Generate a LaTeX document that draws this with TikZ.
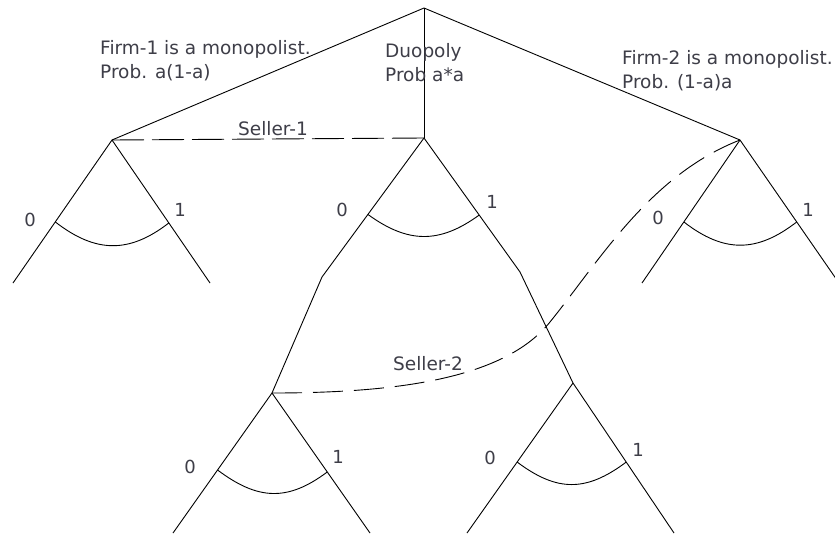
\documentclass[tikz,border=0pt]{standalone}
\usepackage{fontspec}
\setmainfont{DejaVu Sans}
\usetikzlibrary{calc}
\definecolor{txt}{RGB}{62,62,72}
\begin{document}
\begin{tikzpicture}[x=1pt,y=-1pt,
  edge/.style={draw=black,line width=0.9pt},
  infoone/.style={draw=black,line width=0.9pt,dash pattern=on 32pt off 8pt},
  infotwo/.style={draw=black,line width=0.9pt,dash pattern=on 30pt off 11pt},
  choice/.style={draw=black,line width=0.9pt},
  lbl/.style={text=txt,font=\fontsize{18.5}{24}\selectfont,inner sep=0pt,align=left,anchor=north west},
  sel/.style={text=txt,font=\fontsize{18.5}{24}\selectfont,inner sep=0pt,anchor=base west},
  act/.style={text=txt,font=\fontsize{18}{22}\selectfont,inner sep=0pt}]
\useasboundingbox (0,0) rectangle (835,533);
\fill[white] (0,0) rectangle (835,533);

% tree points
\coordinate (root) at (424,8);
\coordinate (L) at (112,140);
\coordinate (M) at (424,138);
\coordinate (R) at (740,140);
% left subtree leaves
\coordinate (La) at (13,283);
\coordinate (Lb) at (210,283);
% middle subtree kinks
\coordinate (Mk0) at (322,277);
\coordinate (Mk1) at (520,272);
% lower decision points
\coordinate (B1) at (272,393);
\coordinate (B2) at (573,383);
\coordinate (B1a) at (173,533);
\coordinate (B1b) at (370,533);
\coordinate (B2a) at (467,533);
\coordinate (B2b) at (674,533);
% right subtree leaves
\coordinate (Ra) at (642,283);
\coordinate (Rb) at (839,283);
% seller-2 curve waypoint
\coordinate (S2) at (550,322);

% main edges
\draw[edge] (root) -- (L);
\draw[edge] (root) -- (M);
\draw[edge] (root) -- (R);
\draw[edge] (L) -- (La);
\draw[edge] (L) -- (Lb);
\draw[edge] (M) -- (Mk0) -- (B1);
\draw[edge] (M) -- (Mk1) -- (B2);
\draw[edge] (B1) -- (B1a);
\draw[edge] (B1) -- (B1b);
\draw[edge] (B2) -- (B2a);
\draw[edge] (B2) -- (B2b);
\draw[edge] (R) -- (Ra);
\draw[edge] (R) -- (Rb);

% choice arcs
\coordinate (Lp) at ($(L)!0.573!(La)$);
\coordinate (Lq) at ($(L)!0.58!(Lb)$);
\draw[choice] (Lp) .. controls ($(Lp)+(40,31)$) and ($(Lq)+(-40,31)$) .. (Lq);
\coordinate (Mp) at ($(M)!0.55!(Mk0)$);
\coordinate (Mq) at ($(M)!0.575!(Mk1)$);
\draw[choice] (Mp) .. controls ($(Mp)+(40,29)$) and ($(Mq)+(-40,29)$) .. (Mq);
\coordinate (B1p) at ($(B1)!0.55!(B1a)$);
\coordinate (B1q) at ($(B1)!0.564!(B1b)$);
\draw[choice] (B1p) .. controls ($(B1p)+(40,30)$) and ($(B1q)+(-40,30)$) .. (B1q);
\coordinate (B2p) at ($(B2)!0.527!(B2a)$);
\coordinate (B2q) at ($(B2)!0.527!(B2b)$);
\draw[choice] (B2p) .. controls ($(B2p)+(40,30)$) and ($(B2q)+(-40,30)$) .. (B2q);
\coordinate (Rp) at ($(R)!0.573!(Ra)$);
\coordinate (Rq) at ($(R)!0.573!(Rb)$);
\draw[choice] (Rp) .. controls ($(Rp)+(40,31)$) and ($(Rq)+(-40,31)$) .. (Rq);

% information sets
\draw[infoone] (L) -- (M);
\draw[infotwo] (B1) .. controls (400,393) and (505,378) .. (S2)
  .. controls (600,260) and (650,175) .. (R);

% texts
\node[lbl] (t1) at (100,37) {\strut Firm-1 is a monopolist.\\\strut Prob. a(1-a)};
\node[lbl] (t2) at (385,40) {\strut Duopoly\\\strut Prob a*a};
\node[lbl] (t3) at (622,47) {\strut Firm-2 is a monopolist.\\\strut Prob. (1-a)a};
\node[sel] (s1) at (238,135) {Seller-1};
\node[sel] (s2) at (393,370) {Seller-2};

% action labels
\node[act] (l0) at (30,220) {0};
\node[act] (l1) at (180,210) {1};
\node[act] (m0) at (342,210) {0};
\node[act] (m1) at (492,202) {1};
\node[act] (r0) at (658,218) {0};
\node[act] (r1) at (808,210) {1};
\node[act] (b10) at (190,467) {0};
\node[act] (b11) at (338,457) {1};
\node[act] (b20) at (490,458) {0};
\node[act] (b21) at (638,450) {1};
\end{tikzpicture}
\end{document}
